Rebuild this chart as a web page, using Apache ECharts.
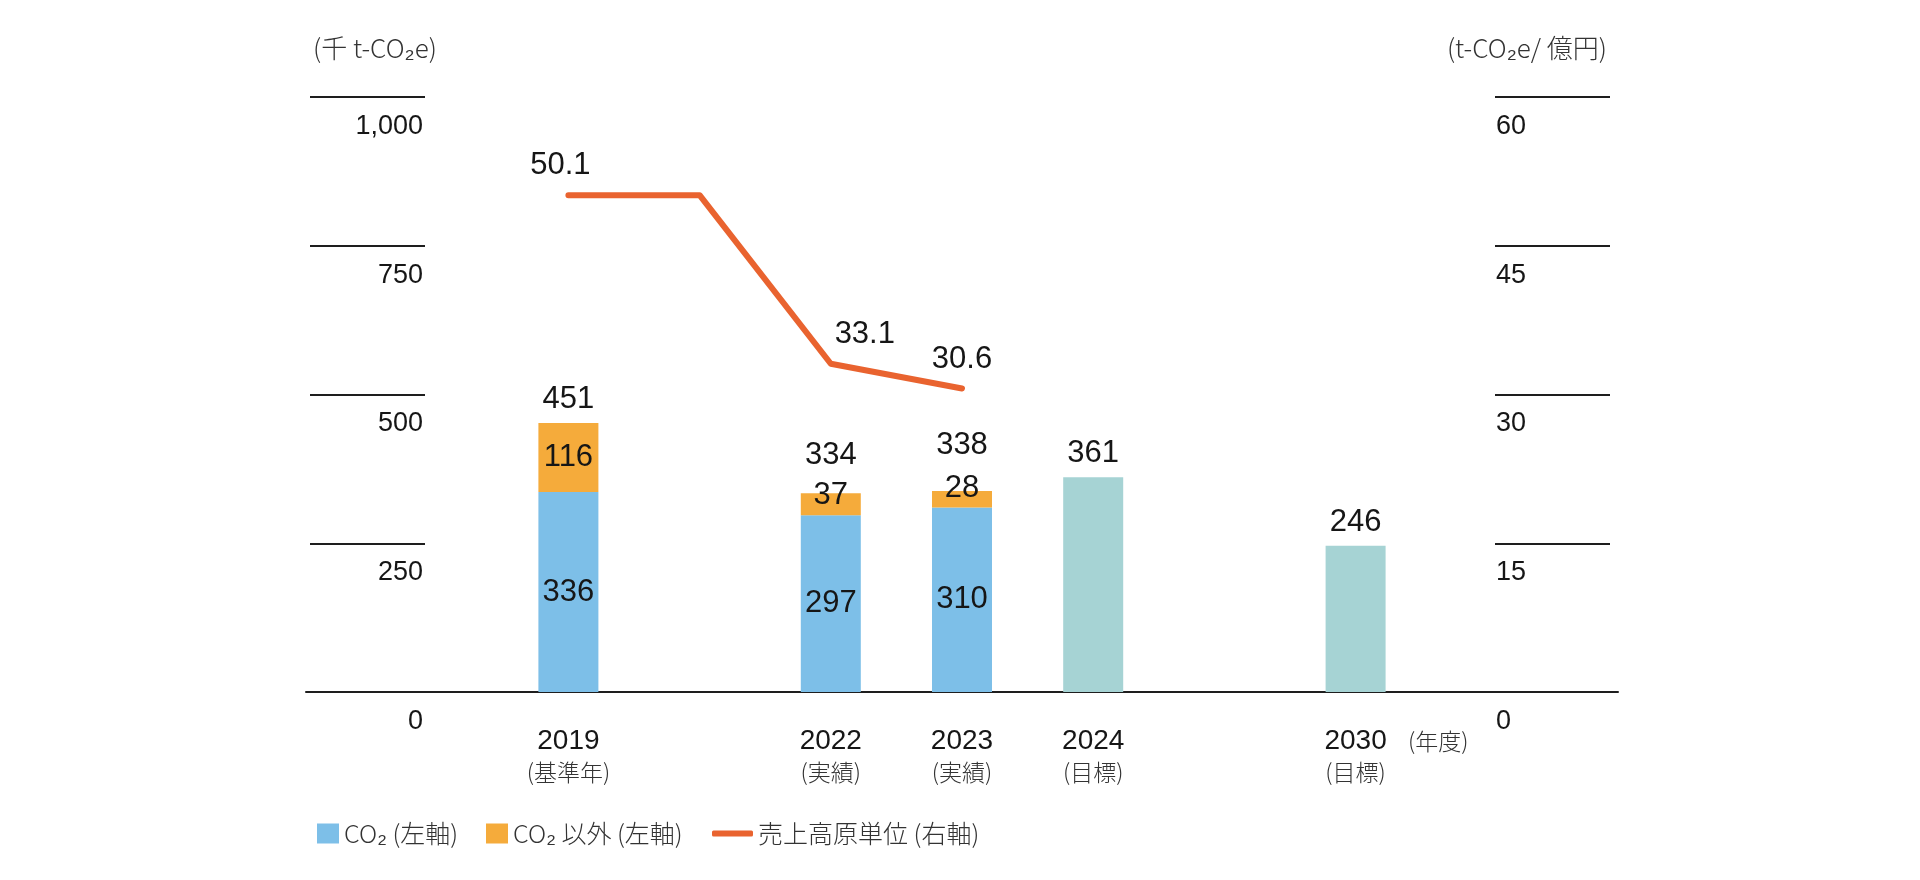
<!DOCTYPE html>
<html>
<head>
<meta charset="utf-8">
<script src="https://cdn.jsdelivr.net/npm/echarts@6/dist/echarts.min.js"></script>
<style>
html,body{margin:0;padding:0;background:#fff;}
#chart{width:1920px;height:880px;}
</style>
</head>
<body>
<div id="chart"></div>
<script>
// ---- data ----
const categories = ['2019', '', '2022', '2023', '2024', '', '2030'];
const categoryNotes = ['(基準年)', '', '(実績)', '(実績)', '(目標)', '', '(目標)'];
const co2Values = [336, null, 297, 310, null, null, null];
const otherGasValues = [116, null, 37, 28, null, null, null];
const totalValues = [451, null, 334, 338, null, null, null];
const targetValues = [null, null, null, null, 361, null, 246];
const intensityValues = [50.1, 50.1, 33.1, 30.6, null, null, null];
const leftTicks = [0, 250, 500, 750, 1000];
const rightTicks = [0, 15, 30, 45, 60];
const seriesNames = ['CO₂ (左軸)', 'CO₂ 以外 (左軸)', '売上高原単位 (右軸)'];

// ---- layout / styling ----
const PAD = 2; // empty slots on each side of the category axis (layout only)
const NUM_FONT = 'Liberation Sans, Arial, sans-serif';
const JP_FONT = 'Noto Sans CJK JP, sans-serif';
const INK = '#161616';
const JP_INK = '#333333';
const C_CO2 = '#7dbfe8';
const C_OTHER = '#f5ab3b';
const C_TARGET = '#a6d3d4';
const C_LINE = '#e9632f';

const totalLabelDistance = { '2019': 9, '2022': 22, '2023': 30 };
const otherLabelDistance = { '2022': -18, '2023': -13 };
const lineLabelOffset = { '2019': [-8, 0], '2022': [34, 0], '2023': [0, 0] };

const fmtThousands = v => Number(v).toLocaleString('en-US');
const pad = arr => [].concat(Array(PAD).fill(null), arr, Array(PAD).fill(null));
const axisData = pad(categories).map((c, i) => 'slot' + i);
const catAt = i => categories[i - PAD] || '';
const toVal = v => (v == null ? '-' : v);

const numLabel = { fontFamily: NUM_FONT, fontSize: 31, color: INK };

const co2Data = pad(co2Values).map(v => ({ value: toVal(v) }));
const otherData = pad(otherGasValues).map((v, i) => {
  const d = otherLabelDistance[catAt(i)];
  return {
    value: toVal(v),
    label: d != null ? { position: 'top', distance: d } : { position: 'inside' }
  };
});
const targetData = pad(targetValues).map(v => ({ value: toVal(v) }));
const totalData = pad(totalValues).map((v, i) => ({
  value: toVal(v),
  label: { distance: totalLabelDistance[catAt(i)] || 9 }
}));
const lineData = pad(intensityValues).map((v, i) => ({
  value: toVal(v),
  label: { show: catAt(i) !== '' && v != null, offset: lineLabelOffset[catAt(i)] || [0, 0] }
}));

const chart = echarts.init(document.getElementById('chart'), null, { renderer: 'canvas' });

const legendBase = {
  top: 816,
  selectedMode: false,
  itemGap: 6,
  textStyle: { fontFamily: JP_FONT, fontSize: 25, color: JP_INK, fontWeight: 300 }
};

chart.setOption({
  animation: false,
  backgroundColor: '#ffffff',
  grid: { left: 306, right: 302, top: 97, bottom: 188, containLabel: false },
  legend: [
    Object.assign({}, legendBase, { left: 312, itemWidth: 22, itemHeight: 20, data: [{ name: seriesNames[0], icon: 'rect' }] }),
    Object.assign({}, legendBase, { left: 481, itemWidth: 22, itemHeight: 20, data: [{ name: seriesNames[1], icon: 'rect' }] }),
    Object.assign({}, legendBase, { left: 707, itemWidth: 41, itemHeight: 6, data: [{ name: seriesNames[2], icon: 'roundRect' }] })
  ],
  xAxis: {
    type: 'category',
    data: axisData,
    boundaryGap: false,
    axisLine: { show: true, lineStyle: { color: '#1e1e1e', width: 2 } },
    axisTick: { show: false },
    splitLine: { show: false },
    axisLabel: {
      show: true,
      interval: 0,
      margin: 34,
      formatter: (value, index) => {
        const c = catAt(index);
        if (!c) return '';
        return '{y|' + c + '}\n{n|' + categoryNotes[index - PAD] + '}';
      },
      rich: {
        y: { fontFamily: NUM_FONT, fontSize: 28, color: INK, lineHeight: 30 },
        n: { fontFamily: JP_FONT, fontSize: 23, color: JP_INK, lineHeight: 32, fontWeight: 300 }
      }
    },
    name: '\n(年度)',
    nameLocation: 'end',
    nameGap: -210,
    nameTextStyle: {
      fontFamily: JP_FONT, fontSize: 23, color: JP_INK, fontWeight: 300, lineHeight: 33,
      align: 'left', verticalAlign: 'top'
    }
  },
  yAxis: [
    {
      type: 'value', position: 'left', offset: -4,
      min: leftTicks[0], max: leftTicks[leftTicks.length - 1], interval: leftTicks[1] - leftTicks[0],
      axisLine: { show: false, onZero: false },
      splitLine: { show: false },
      axisTick: { show: true, inside: true, length: 115, lineStyle: { color: '#1e1e1e', width: 2 } },
      axisLabel: {
        inside: true, margin: 113, align: 'right', verticalAlign: 'top', padding: [16, 0, 0, 0],
        showMinLabel: true, showMaxLabel: true,
        fontFamily: NUM_FONT, fontSize: 27, color: INK,
        formatter: v => fmtThousands(v)
      },
      name: '(千 t-CO₂e)',
      nameLocation: 'end',
      nameGap: 36,
      nameTextStyle: { fontFamily: JP_FONT, fontSize: 26, color: JP_INK, fontWeight: 300, align: 'left', padding: [0, 0, 0, 3] }
    },
    {
      type: 'value', position: 'right', offset: -8,
      min: rightTicks[0], max: rightTicks[rightTicks.length - 1], interval: rightTicks[1] - rightTicks[0],
      axisLine: { show: false, onZero: false },
      splitLine: { show: false },
      axisTick: { show: true, inside: true, length: 115, lineStyle: { color: '#1e1e1e', width: 2 } },
      axisLabel: {
        inside: true, margin: 114, align: 'left', verticalAlign: 'top', padding: [16, 0, 0, 0],
        showMinLabel: true, showMaxLabel: true,
        fontFamily: NUM_FONT, fontSize: 27, color: INK,
        formatter: v => String(v)
      },
      name: '(t-CO₂e/ 億円)',
      nameLocation: 'end',
      nameGap: 36,
      nameTextStyle: { fontFamily: JP_FONT, fontSize: 26, color: JP_INK, fontWeight: 300, align: 'right', padding: [0, 3, 0, 0] }
    }
  ],
  series: [
    {
      name: seriesNames[0], type: 'bar', stack: 'ghg', barWidth: 60,
      itemStyle: { color: C_CO2 },
      label: Object.assign({ show: true, position: 'inside' }, numLabel),
      data: co2Data
    },
    {
      name: seriesNames[1], type: 'bar', stack: 'ghg', barWidth: 60,
      itemStyle: { color: C_OTHER },
      label: Object.assign({ show: true }, numLabel),
      data: otherData
    },
    {
      name: '目標', type: 'bar', stack: 'ghg', barWidth: 60,
      itemStyle: { color: C_TARGET },
      label: Object.assign({ show: true, position: 'top', distance: 8 }, numLabel),
      data: targetData
    },
    {
      name: '合計', type: 'scatter', symbolSize: 0, silent: true,
      itemStyle: { opacity: 1 },
      label: Object.assign({ show: true, position: 'top' }, numLabel),
      data: totalData,
      z: 5
    },
    {
      name: seriesNames[2], type: 'line', yAxisIndex: 1,
      symbol: 'circle', symbolSize: 0, showSymbol: true,
      lineStyle: { color: C_LINE, width: 6, cap: 'round', join: 'round' },
      itemStyle: { color: C_LINE },
      label: Object.assign({ show: true, position: 'top', distance: 14 }, numLabel),
      data: lineData,
      z: 4
    }
  ]
});
</script>
</body>
</html>
